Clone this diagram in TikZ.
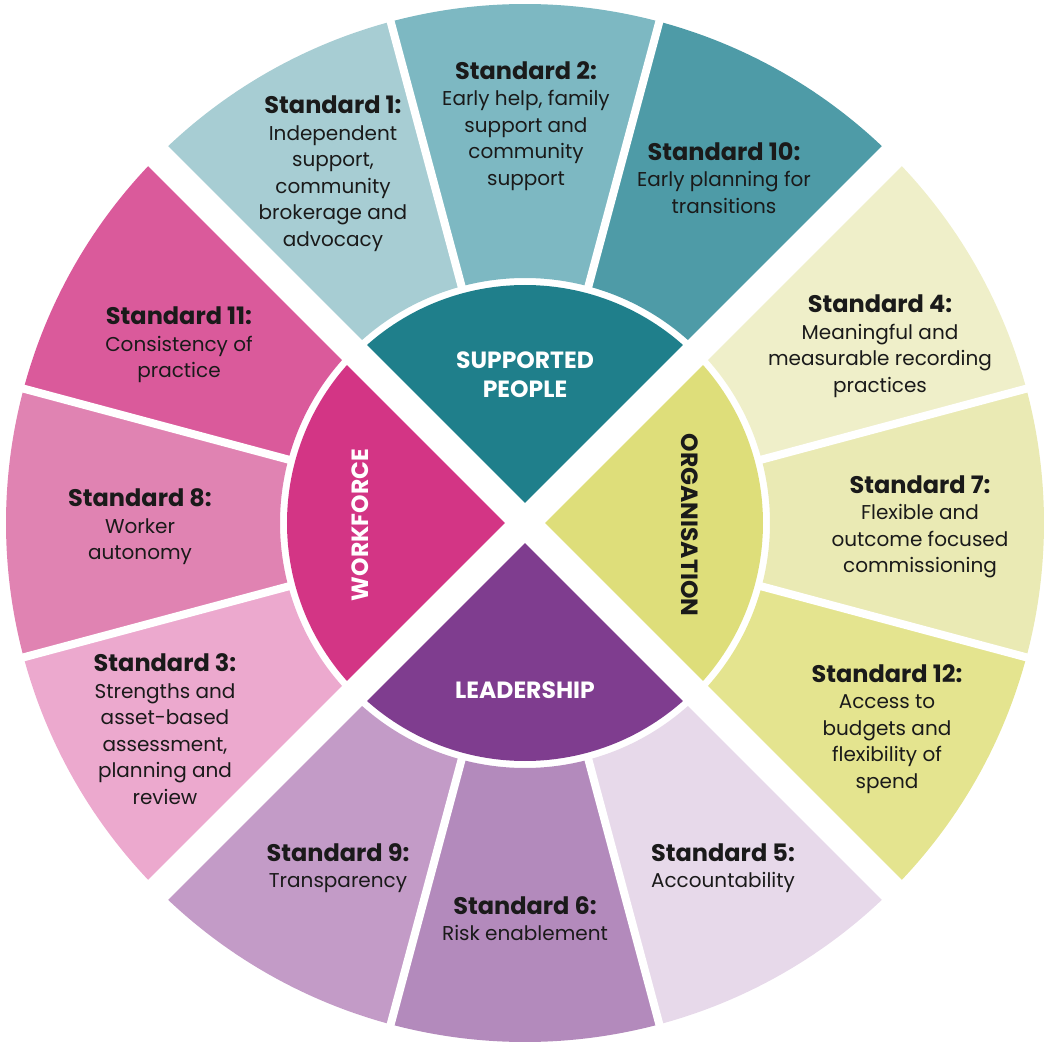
\documentclass[tikz,border=0pt]{standalone}
\usepackage{fontspec}
\setmainfont{Poppins}
\definecolor{cA}{HTML}{A7CDD3}
\definecolor{cB}{HTML}{7DB8C2}
\definecolor{cJ}{HTML}{4E9BA7}
\definecolor{cSP}{HTML}{1F7F8B}
\definecolor{cD}{HTML}{EFEFC9}
\definecolor{cG}{HTML}{EAEAB4}
\definecolor{cL}{HTML}{E4E48F}
\definecolor{cOR}{HTML}{DEDE7A}
\definecolor{cE}{HTML}{E7D9EA}
\definecolor{cF}{HTML}{B38ABC}
\definecolor{cI}{HTML}{C39BC7}
\definecolor{cLE}{HTML}{7F3D8F}
\definecolor{cK}{HTML}{DA5A9B}
\definecolor{cH}{HTML}{E083B2}
\definecolor{cC}{HTML}{ECA9CE}
\definecolor{cWF}{HTML}{D33585}
\definecolor{ink}{HTML}{1A1A1A}
\newcommand{\wheelseg}[3]{\fill[#1] (#2:245) arc[start angle=#2,end angle=#3,radius=245] -- (#3:519) arc[start angle=#3,end angle=#2,radius=519] -- cycle;}
\newcommand{\wheelpie}[3]{\fill[#1] (0,0) -- (#2:238) arc[start angle=#2,end angle=#3,radius=238] -- cycle;}
\newcommand{\stdtitle}[1]{{\fontsize{24}{26.5}\selectfont\bfseries #1}}
\tikzset{
  stdtext/.style={align=center, text=ink, font=\fontsize{20}{26.5}\selectfont, inner sep=0pt},
  hubtext/.style={align=center, font=\fontsize{23.5}{29}\selectfont\bfseries, inner sep=0pt},
  gapline/.style={white, line width=8},
  gapband/.style={white, line width=28}
}
\begin{document}
\begin{tikzpicture}[x=1pt,y=1pt]
\useasboundingbox (-525,-524) rectangle (525,523);
% outer segments
\wheelseg{cJ}{45}{75}
\wheelseg{cB}{75}{105}
\wheelseg{cA}{105}{135}
\wheelseg{cK}{135}{165}
\wheelseg{cH}{165}{195}
\wheelseg{cC}{195}{225}
\wheelseg{cI}{225}{255}
\wheelseg{cF}{255}{285}
\wheelseg{cE}{285}{315}
\wheelseg{cL}{315}{345}
\wheelseg{cG}{345}{375}
\wheelseg{cD}{15}{45}
% inner hub
\wheelpie{cSP}{45}{135}
\wheelpie{cWF}{135}{225}
\wheelpie{cLE}{225}{315}
\wheelpie{cOR}{-45}{45}
% gaps
\foreach \a in {15,75,105,165,195,255,285,345}
  \draw[gapline] (\a:240) -- (\a:522);
\draw[gapband] (225:522) -- (45:522);
\draw[gapband] (135:522) -- (315:522);
% texts
\node[stdtext] (s1) at (-192,349.5) {\stdtitle{Standard 1:}\\Independent\\support,\\community\\brokerage and\\advocacy};
\node[stdtext] (s2) at (1,397) {\stdtitle{Standard 2:}\\Early help, family\\support and\\community\\support};
\node[stdtext] (s10) at (199,345) {\stdtitle{Standard 10:}\\Early planning for\\transitions};
\node[stdtext] (s4) at (355,177) {\stdtitle{Standard 4:}\\Meaningful and\\measurable recording\\practices};
\node[stdtext] (s7) at (395,-4) {\stdtitle{Standard 7:}\\Flexible and\\outcome focused\\commissioning};
\node[stdtext] (s12) at (362,-206) {\stdtitle{Standard 12:}\\Access to\\budgets and\\flexibility of\\spend};
\node[stdtext] (s5) at (198,-345) {\stdtitle{Standard 5:}\\Accountability};
\node[stdtext] (s6) at (0,-395.5) {\stdtitle{Standard 6:}\\Risk enablement};
\node[stdtext] (s9) at (-187,-345) {\stdtitle{Standard 9:}\\Transparency};
\node[stdtext] (s3) at (-360,-206) {\stdtitle{Standard 3:}\\Strengths and\\asset-based\\assessment,\\planning and\\review};
\node[stdtext] (s8) at (-385,-4) {\stdtitle{Standard 8:}\\Worker\\autonomy};
\node[stdtext] (s11) at (-346,178) {\stdtitle{Standard 11:}\\Consistency of\\practice};
\node[hubtext, text=white] (hsp) at (0,148.5) {SUPPORTED\\PEOPLE};
\node[hubtext, text=white] (hle) at (0,-167) {LEADERSHIP};
\node[hubtext, text=white, rotate=90] (hwf) at (-165,-2) {WORKFORCE};
\node[hubtext, text=ink, rotate=-90] (hor) at (165,-2) {ORGANISATION};
\end{tikzpicture}
\end{document}
